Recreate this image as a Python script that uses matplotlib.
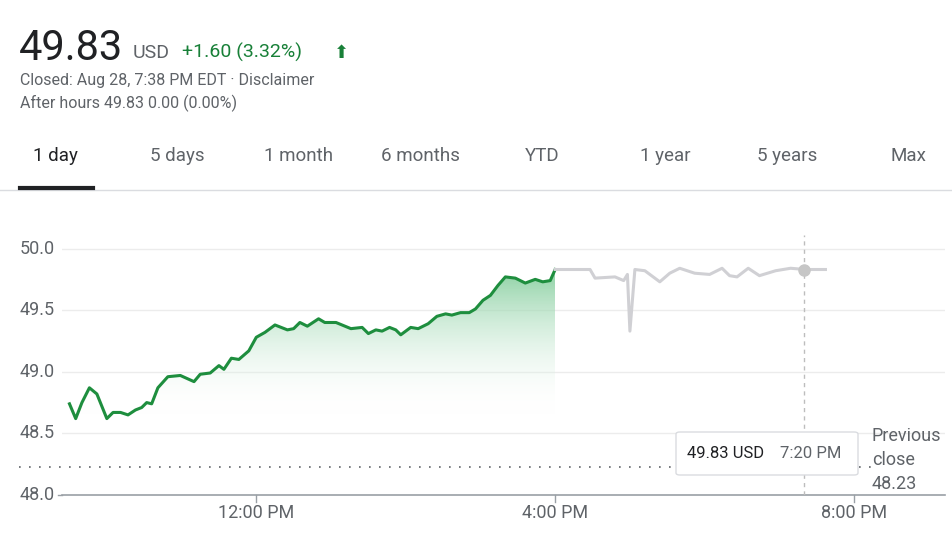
import numpy as np
import matplotlib
matplotlib.use("Agg")
import matplotlib.pyplot as plt
from matplotlib.patches import Polygon, FancyBboxPatch

plt.rcParams['font.family'] = ['Roboto', 'DejaVu Sans']

# regular session: minutes after 9:30 AM, price
DAY_MIN = [0, 5, 10, 16, 22, 30, 35, 41, 47, 53, 58, 62, 66, 71, 79, 89, 100, 105, 113, 120,
           124, 130, 136, 144, 150, 157, 165, 175, 180, 185, 191, 200, 205, 214, 226, 235,
           240, 246, 251, 257, 262, 266, 274, 280, 288, 295, 302, 307, 314, 321, 326, 332,
           338, 344, 350, 358, 366, 374, 380, 386, 390]
DAY_PRICE = [48.74, 48.62, 48.75, 48.87, 48.82, 48.62, 48.67, 48.67, 48.65, 48.69, 48.71,
             48.75, 48.74, 48.87, 48.96, 48.97, 48.92, 48.98, 48.99, 49.05, 49.02, 49.11,
             49.10, 49.17, 49.28, 49.32, 49.38, 49.34, 49.35, 49.40, 49.37, 49.43, 49.40,
             49.40, 49.35, 49.36, 49.31, 49.34, 49.33, 49.36, 49.34, 49.30, 49.36, 49.35,
             49.39, 49.45, 49.47, 49.46, 49.48, 49.48, 49.51, 49.58, 49.62, 49.70, 49.77,
             49.76, 49.72, 49.75, 49.73, 49.74, 49.83]
# after hours: minutes after 4:00 PM, price
AH_MIN = [0, 28, 32, 48, 55, 58, 60, 64, 72, 84, 92, 100, 112, 124, 134, 140, 146, 155,
          164, 177, 189, 201, 217]
AH_PRICE = [49.83, 49.83, 49.76, 49.77, 49.74, 49.79, 49.33, 49.83, 49.82, 49.73, 49.80,
            49.84, 49.80, 49.79, 49.84, 49.78, 49.77, 49.84, 49.78, 49.82, 49.84, 49.83, 49.83]
PREV_CLOSE = 48.23
HOVER_MIN = 200
Y_TICKS = [48.0, 48.5, 49.0, 49.5, 50.0]
X_TICKS = [12, 16, 20]
X_LABELS = ["12:00 PM", "4:00 PM", "8:00 PM"]
TABS = ["1 day", "5 days", "1 month", "6 months", "YTD", "1 year", "5 years", "Max"]
TAB_X = [33, 150, 264, 381, 525, 640, 757, 891]

GREEN = "#188038"
LINE_GREEN = "#1e8e3e"
GRAY = "#5f6368"

W, H = 953, 534
fig = plt.figure(figsize=(W / 100, H / 100), dpi=100)

def fx(px):
    return px / W

def fy(py):
    return 1 - py / H

# header
fig.text(fx(19), fy(60), "49.83", fontsize=30, color="#202124", va="baseline")
fig.text(fx(133), fy(58), "USD", fontsize=14, color=GRAY, va="baseline")
fig.text(fx(182), fy(58), "+1.60 (3.32%)", fontsize=14, color=GREEN, va="baseline")
fig.text(fx(334), fy(58), "\u2b06", fontsize=13, color=GREEN, va="baseline",
         family="DejaVu Sans")
fig.text(fx(20), fy(85), "Closed: Aug 28, 7:38 PM EDT \u00b7 Disclaimer", fontsize=11.5,
         color=GRAY, va="baseline")
fig.text(fx(20), fy(108), "After hours 49.83 0.00 (0.00%)", fontsize=11.5, color=GRAY,
         va="baseline")
for t, x in zip(TABS, TAB_X):
    fig.text(fx(x), fy(161), t, fontsize=13.5, va="baseline",
             color="#202124" if t == "1 day" else GRAY)
fig.add_artist(plt.Line2D([0, 1], [fy(190), fy(190)], color="#dadce0", lw=1))
fig.add_artist(plt.Line2D([fx(20), fx(93)], [fy(188.5), fy(188.5)], color="#202124", lw=3))

# chart axes
x0h = 9 + 24 / 60
x1h = 21 + 13 / 60
ax = fig.add_axes([fx(62), fy(495), fx(945) - fx(62), fy(235) - fy(495)])
ax.set_xlim(x0h, x1h)
ax.set_ylim(48.0, 50.11)
ax.axis("off")

dx = 9.5 + np.array(DAY_MIN) / 60
dy = np.array(DAY_PRICE)
ahx = 16 + np.array(AH_MIN) / 60
ahy = np.array(AH_PRICE)

for yt in Y_TICKS[1:]:
    ax.plot([x0h, x1h], [yt, yt], color="#ececec", lw=1, zorder=0)
    ax.text(x0h - 0.57, yt, f"{yt:.1f}", fontsize=13, color=GRAY, ha="left", va="center")
ax.text(x0h - 0.57, 48.0, "48.0", fontsize=13, color=GRAY, ha="left", va="center")
ax.plot([x0h - 0.06, x0h], [48.0, 48.0], color="#9aa0a6", lw=1, clip_on=False)
ax.plot([x0h, x1h], [48.0, 48.0], color="#9aa0a6", lw=1.2, clip_on=False)
for xt, lab in zip(X_TICKS, X_LABELS):
    ax.plot([xt, xt], [48.0, 47.94], color="#9aa0a6", lw=1, clip_on=False)
    ax.text(xt, 47.93, lab, fontsize=13, color=GRAY, ha="center", va="top")

# previous close dotted line
ax.plot([x0h - 0.57, 20.3], [PREV_CLOSE, PREV_CLOSE], color="#5f6368",
        lw=1.2, ls=(0, (1, 5)), clip_on=False, zorder=1)

# gradient fill
grad = np.linspace(0, 1, 256).reshape(-1, 1)
img = ax.imshow(grad, extent=[dx[0], dx[-1], 48.65, 49.83], origin="lower", aspect="auto",
                cmap=matplotlib.colors.LinearSegmentedColormap.from_list(
                    "g", [(1, 1, 1, 0), (0.5, 0.8, 0.6, 0.9)]), zorder=1)
poly = Polygon(np.column_stack([np.r_[dx, dx[-1], dx[0]], np.r_[dy, 48.65, 48.65]]),
               closed=True, transform=ax.transData, facecolor="none", edgecolor="none")
ax.add_patch(poly)
img.set_clip_path(poly)

ax.plot(dx, dy, color=LINE_GREEN, lw=2.2, zorder=3)
ax.plot(ahx, ahy, color="#d0d0d4", lw=2.2, zorder=3)

# hover
hx = 16 + HOVER_MIN / 60
ax.plot([hx, hx], [48.0, 50.11], color="#bdbdbd", lw=1, ls=(0, (3, 3)), zorder=2)
ax.plot([hx], [49.83], "o", color="#c6c6c6", ms=8, zorder=4)
fig.add_artist(FancyBboxPatch((fx(676), fy(475)), fx(858) - fx(676), fy(432) - fy(475),
                              boxstyle="round,pad=0,rounding_size=0.004",
                              facecolor="white", edgecolor="#dadce0", lw=1, zorder=5))
fig.text(fx(687), fy(454), "49.83 USD", fontsize=12, color="#202124", va="center", zorder=6)
fig.text(fx(780), fy(454), "7:20 PM", fontsize=12, color=GRAY, va="center", zorder=6)
for i, line in enumerate(["Previous", "close", "48.23"]):
    fig.text(fx(872), fy(436 + 24 * i), line, fontsize=13, color=GRAY, va="center")

fig.savefig("out.png", dpi=100)
